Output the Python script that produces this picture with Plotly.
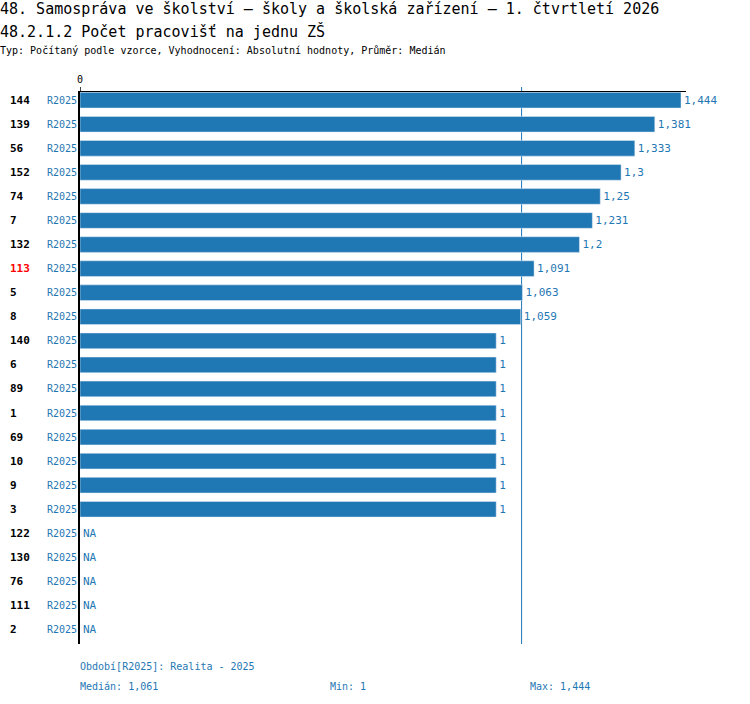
import plotly.graph_objects as go

# data
ids = ["144", "139", "56", "152", "74", "7", "132", "113", "5", "8", "140", "6",
       "89", "1", "69", "10", "9", "3", "122", "130", "76", "111", "2"]
values = [1.444, 1.381, 1.333, 1.3, 1.25, 1.231, 1.2, 1.091, 1.063, 1.059, 1, 1,
          1, 1, 1, 1, 1, 1, None, None, None, None, None]
period = "R2025"
highlight = "113"
median = 1.061
vmin = 1
vmax = 1.444

title1 = "48. Samospráva ve školství – školy a školská zařízení – 1. čtvrtletí 2026"
title2 = "48.2.1.2 Počet pracovišť na jednu ZŠ"
subtitle = "Typ: Počítaný podle vzorce, Vyhodnocení: Absolutní hodnoty, Průměr: Medián"

BLUE = "#1f77b4"
FONT = "DejaVu Sans Mono"
W, H = 750, 704
L, R, T, B = 80, 64, 92, 60
pw, ph = W - L - R, H - T - B


def fmt(v):
    return f"{v:g}".replace(".", ",")


# pixel -> paper helpers for the free text
def px(x):
    return (x - L) / pw


def py(y):
    return (H - B - y) / ph


fig = go.Figure()
fig.add_trace(go.Bar(
    x=values, y=ids, orientation="h",
    marker_color=BLUE,
    text=[fmt(v) if v is not None else "" for v in values],
    textposition="outside",
    textfont=dict(color=BLUE, size=11, family=FONT),
    cliponaxis=False,
    hoverinfo="skip",
))

# numeric-looking ids: place annotations by category index
for k, (i, v) in enumerate(zip(ids, values)):
    if v is None:
        fig.add_annotation(x=0, y=k, xref="x", yref="y", text="NA", showarrow=False,
                           xanchor="left", xshift=1,
                           font=dict(color=BLUE, size=11, family=FONT))
    fig.add_annotation(x=px(10), y=k, xref="paper", yref="y", text=f"<b>{i}</b>",
                       showarrow=False, xanchor="left", xshift=-2,
                       font=dict(color="red" if i == highlight else "black", size=11, family=FONT))

# median line
fig.add_shape(type="line", x0=median, x1=median, y0=0, y1=py(87), xref="x", yref="paper",
              line=dict(color=BLUE, width=1), layer="below")

# titles
fig.add_annotation(x=px(0), y=py(9), xref="paper", yref="paper", text=title1, showarrow=False,
                   xanchor="left", yanchor="middle", xshift=-2,
                   font=dict(size=15, color="black", family=FONT))
fig.add_annotation(x=px(0), y=py(31), xref="paper", yref="paper", text=title2, showarrow=False,
                   xanchor="left", yanchor="middle", xshift=-2,
                   font=dict(size=15, color="black", family=FONT))
fig.add_annotation(x=px(0), y=py(50), xref="paper", yref="paper", text=subtitle, showarrow=False,
                   xanchor="left", yanchor="middle", xshift=-2,
                   font=dict(size=10, color="black", family=FONT))

# footer
foot = dict(xref="paper", yref="paper", showarrow=False, xanchor="left", yanchor="middle",
            xshift=-2, font=dict(size=10, color=BLUE, family=FONT))
fig.add_annotation(x=px(80), y=py(666), text=f"Období[{period}]: Realita - 2025", **foot)
fig.add_annotation(x=px(80), y=py(686), text=f"Medián: {fmt(median)}", **foot)
fig.add_annotation(x=px(330), y=py(686), text=f"Min: {fmt(vmin)}", **foot)
fig.add_annotation(x=px(530), y=py(686), text=f"Max: {fmt(vmax)}", **foot)

fig.update_layout(
    width=W, height=H,
    margin=dict(l=L, r=R, t=T, b=B),
    paper_bgcolor="white", plot_bgcolor="white",
    showlegend=False,
    bargap=0.35,
    font=dict(family=FONT),
    xaxis=dict(range=[0, (686 - L) / (681 - L) * vmax], side="top",
               tickvals=[0], ticktext=["0"], ticks="outside", ticklen=4,
               tickfont=dict(size=10, color="black", family=FONT),
               showline=True, linecolor="black", linewidth=1,
               showgrid=False, zeroline=False, fixedrange=True, automargin=False),
    yaxis=dict(type="category", categoryorder="array", categoryarray=ids,
               range=[22.6, -0.34],
               tickvals=ids, ticktext=[period] * len(ids),
               tickfont=dict(size=10, color=BLUE, family=FONT),
               ticks="", ticklabelstandoff=-1,
               showline=True, linecolor="black", linewidth=2,
               showgrid=False, zeroline=False, fixedrange=True, automargin=False),
)

fig.write_html("out.html", config={"displayModeBar": False},
               post_script="document.body.style.margin='0';")
